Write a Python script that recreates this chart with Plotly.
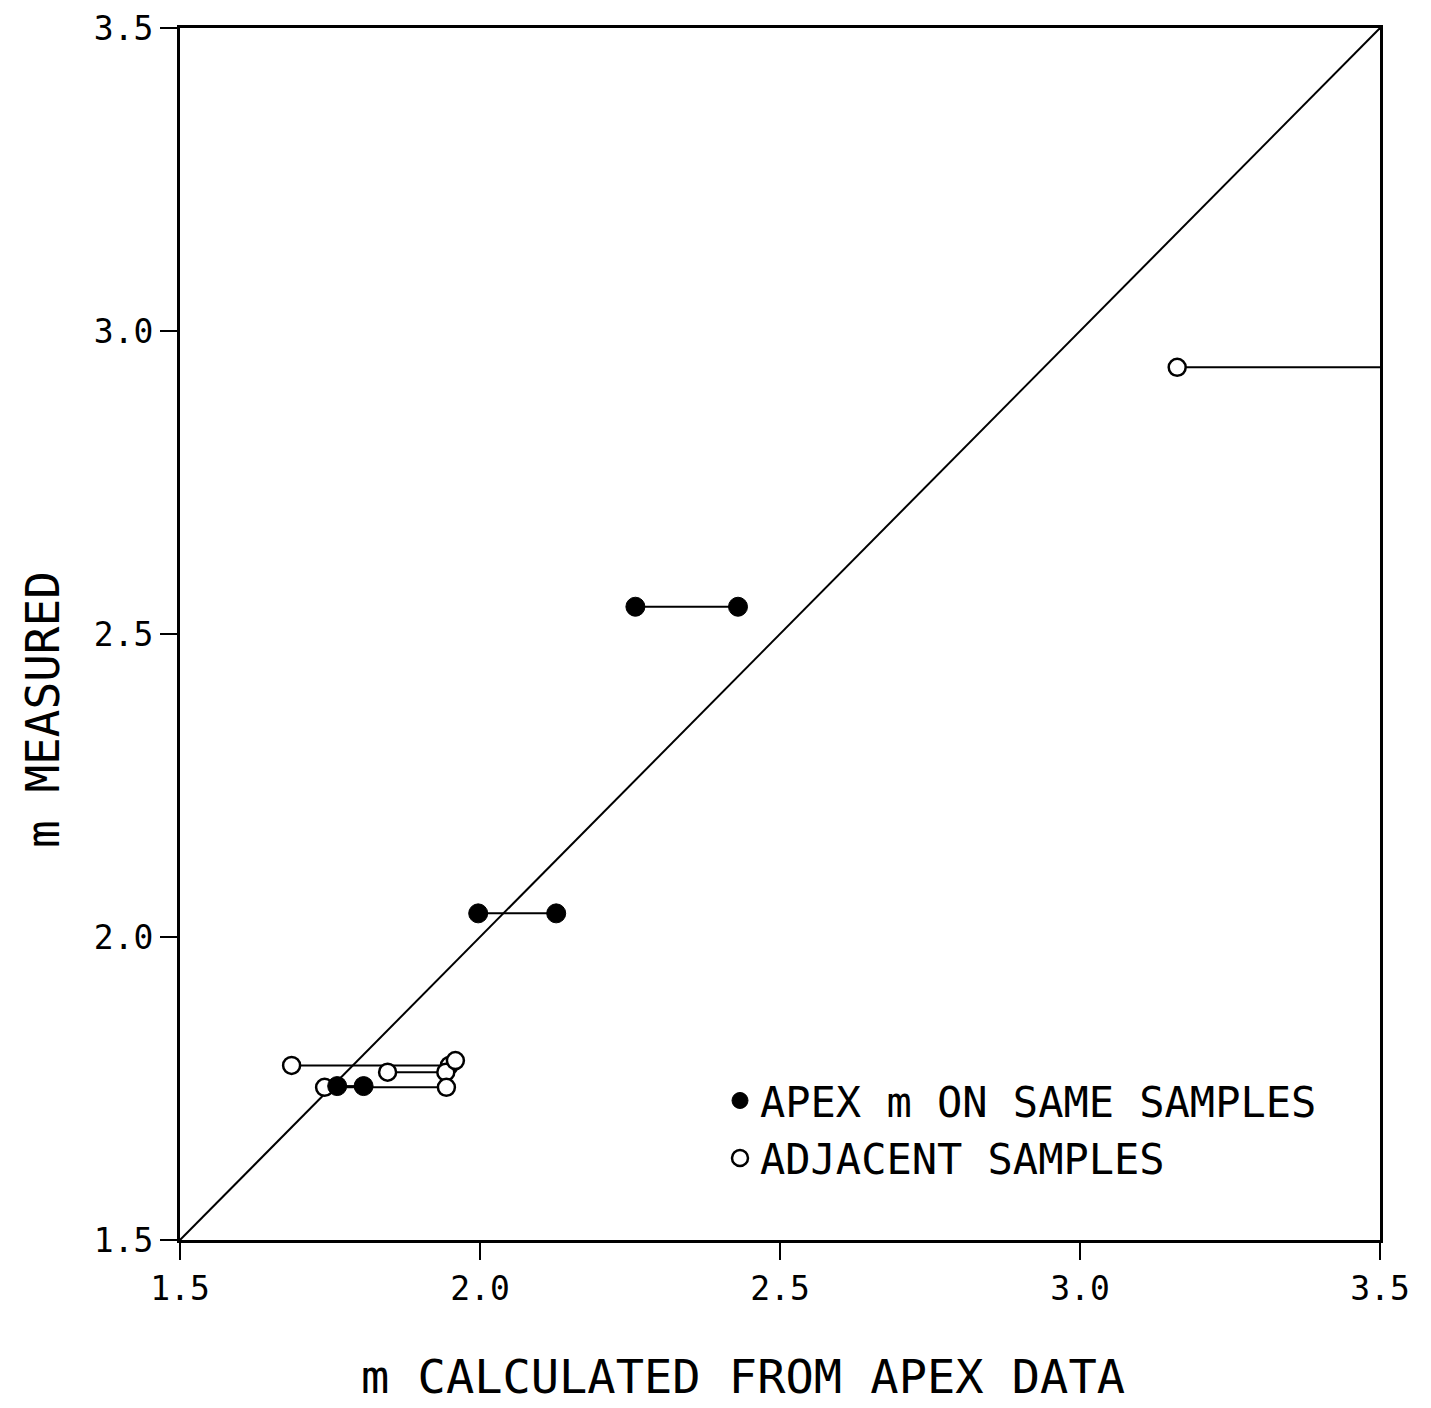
import plotly.graph_objects as go

# ---- data ----
filled_y = [2.545, 2.039, 1.754]
filled_x_left = [2.259, 1.997, 1.762]
filled_x_right = [2.430, 2.127, 1.806]

open_y = [1.788, 1.777, 1.752, 2.940]
open_x_left = [1.686, 1.846, 1.741, 3.162]
open_x_right = [1.949, 1.943, 1.944, 3.620]   # last partner lies off scale
open_extra_x = [1.959]
open_extra_y = [1.796]

diag = [1.5, 3.5]
tick_vals = [1.5, 2.0, 2.5, 3.0, 3.5]
tick_text = ["1.5", "2.0", "2.5", "3.0", "3.5"]

legend_filled = "APEX m ON SAME SAMPLES"
legend_open = "ADJACENT SAMPLES"
x_title = "m CALCULATED FROM APEX DATA"
y_title = "m MEASURED"

MONO = "DejaVu Sans Mono"


def segs(xl, xr, y):
    xs, ys = [], []
    for a, b, c in zip(xl, xr, y):
        xs += [a, b, None]
        ys += [c, c, None]
    return xs, ys


fig = go.Figure()

# identity line
fig.add_trace(go.Scatter(x=diag, y=diag, mode="lines",
                         line=dict(color="black", width=2), showlegend=False,
                         hoverinfo="skip"))

# connecting segments
sx, sy = segs(open_x_left, open_x_right, open_y)
fig.add_trace(go.Scatter(x=sx, y=sy, mode="lines",
                         line=dict(color="black", width=2), showlegend=False))
sx, sy = segs(filled_x_left, filled_x_right, filled_y)
fig.add_trace(go.Scatter(x=sx, y=sy, mode="lines",
                         line=dict(color="black", width=2), showlegend=False))

# open markers
fig.add_trace(go.Scatter(
    x=open_x_left + open_x_right + open_extra_x,
    y=open_y + open_y + open_extra_y,
    mode="markers", cliponaxis=True,
    marker=dict(symbol="circle", size=17, color="white",
                line=dict(color="black", width=2.5)),
    name=legend_open, legendrank=2))

# filled markers
fig.add_trace(go.Scatter(
    x=filled_x_left + filled_x_right,
    y=filled_y + filled_y,
    mode="markers",
    marker=dict(symbol="circle", size=19, color="black",
                line=dict(color="black", width=1)),
    name=legend_filled, legendrank=1))

axis_common = dict(
    range=[1.5, 3.5], tickvals=tick_vals, ticktext=tick_text,
    showgrid=False, zeroline=False, showline=True, linecolor="black",
    linewidth=3, mirror=True, ticks="outside", ticklen=17, tickwidth=2,
    tickcolor="black", tickfont=dict(family=MONO, size=33, color="black"),
    ticklabeloverflow="allow", automargin=False,
)

fig.update_layout(
    width=1431, height=1408,
    margin=dict(l=172, r=59, t=20, b=176),
    paper_bgcolor="white", plot_bgcolor="white",
    xaxis=dict(**axis_common),
    yaxis=dict(**axis_common),
    legend=dict(x=0.45, y=0.143, xanchor="left", yanchor="top",
                bgcolor="rgba(0,0,0,0)", borderwidth=0,
                font=dict(family=MONO, size=42, color="black"),
                itemwidth=30, tracegroupgap=0),
    showlegend=True,
    annotations=[
        dict(text=x_title, xref="paper", yref="paper",
             x=(735 - 172) / 1200, y=-(1368 - 1232) / 1212,
             xanchor="center", yanchor="middle", showarrow=False,
             font=dict(family=MONO, size=47, color="black")),
        dict(text=y_title, xref="paper", yref="paper",
             x=-(172 - 35) / 1200, y=(1232 - 702) / 1212, textangle=-90,
             xanchor="center", yanchor="middle", showarrow=False,
             font=dict(family=MONO, size=46, color="black")),
    ],
)

fig.write_html("out.html")
